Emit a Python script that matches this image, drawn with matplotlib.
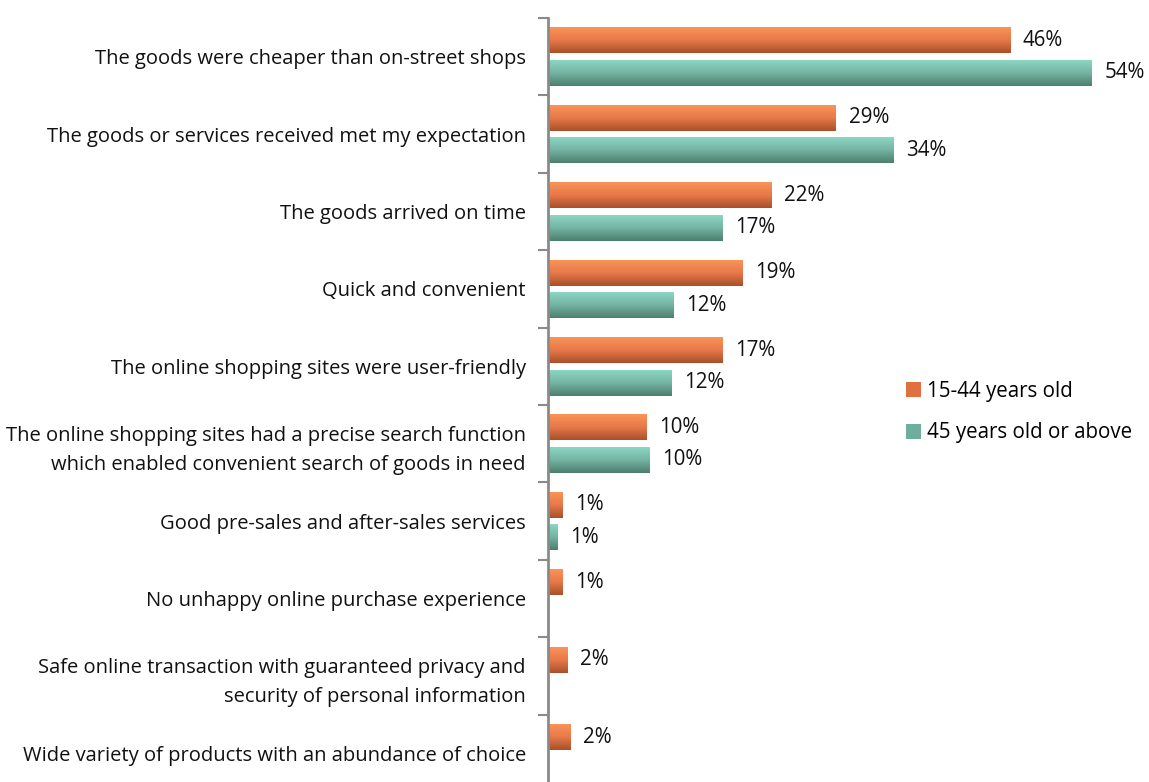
import numpy as np
import matplotlib
matplotlib.use("Agg")
import matplotlib.pyplot as plt
from matplotlib.colors import LinearSegmentedColormap
from matplotlib.patches import Patch

plt.rcParams['font.family'] = ['Open Sans', 'DejaVu Sans']

categories = [
    "The goods were cheaper than on-street shops",
    "The goods or services received met my expectation",
    "The goods arrived on time",
    "Quick and convenient",
    "The online shopping sites were user-friendly",
    "The online shopping sites had a precise search function\nwhich enabled convenient search of goods in need",
    "Good pre-sales and after-sales services",
    "No unhappy online purchase experience",
    "Safe online transaction with guaranteed privacy and\nsecurity of personal information",
    "Wide variety of products with an abundance of choice",
]
young = [45.9, 28.6, 22.2, 19.3, 17.3, 9.8, 1.4, 1.4, 1.9, 2.2]
old = [54.0, 34.3, 17.3, 12.5, 12.3, 10.1, 0.9, None, None, None]
series_names = ["15-44 years old", "45 years old or above"]

orange = LinearSegmentedColormap.from_list("or", ["#F99458", "#E8784A", "#A9502A"])
teal = LinearSegmentedColormap.from_list("te", ["#8CD6C3", "#74B3A2", "#4C7F6E"])

fig = plt.figure(figsize=(11.49, 7.82), dpi=100)
ax = fig.add_axes([548 / 1149, -10 / 782, 594 / 1149, 774 / 782])

n = len(categories)
y = np.arange(n)
h = 0.335
off = 0.21
grad = np.linspace(0, 1, 64).reshape(-1, 1)


def gradient_bars(vals, pos, cmap):
    for v, yy in zip(vals, pos):
        if v is None:
            continue
        bar = ax.barh(yy, v, height=h, color="none", edgecolor="none")[0]
        im = ax.imshow(grad, cmap=cmap, aspect="auto", origin="upper",
                       extent=(0, v, yy + h / 2, yy - h / 2), zorder=2)
        im.set_clip_path(bar)
        ax.text(v + 1.25, yy, "%d%%" % round(v), va="center", ha="left",
                fontsize=14.8, color="#111111")


gradient_bars(young, y - off, orange)
gradient_bars(old, y + off, teal)

ax.set_xlim(0, 59)
ax.set_ylim(n - 0.5, -0.5)
ax.set_yticks(y)
ax.set_yticklabels(categories, fontsize=14.5, color="#111111", ha="right",
                   linespacing=1.6)
ax.tick_params(axis="y", which="major", length=0, pad=16)
ax.set_yticks(np.arange(n + 1) - 0.5, minor=True)
ax.tick_params(axis="y", which="minor", length=7, width=1.5, color="#8a8a8a")
ax.set_xticks([])
for s in ["top", "right", "bottom"]:
    ax.spines[s].set_visible(False)
ax.spines["left"].set_color("#8a8a8a")
ax.spines["left"].set_linewidth(2)

handles = [Patch(facecolor="#E07040", edgecolor="none"),
           Patch(facecolor="#6FAE9C", edgecolor="none")]
fig.legend(handles, series_names, loc="center left",
           bbox_to_anchor=(887 / 1149, 1 - 412 / 782), frameon=False,
           fontsize=14.8, handlelength=0.75, handleheight=0.75, handletextpad=0.3,
           labelspacing=1.0)

fig.savefig("out.png", dpi=100)
